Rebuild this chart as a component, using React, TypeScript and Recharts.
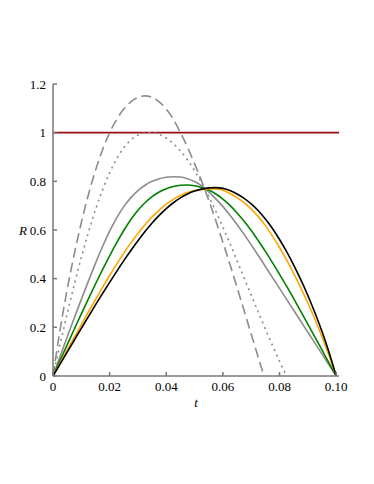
import { LineChart, Line, XAxis, YAxis, ReferenceLine, Label } from "recharts";

// shared t grid for the four solid curves
const tGrid = [
  0, 0.0025, 0.005, 0.0075, 0.01, 0.0125, 0.015, 0.0175, 0.02, 0.0225,
  0.025, 0.0275, 0.03, 0.0325, 0.035, 0.0375, 0.04, 0.0425, 0.045, 0.0475,
  0.05, 0.0525, 0.055, 0.0575, 0.06, 0.0625, 0.065, 0.0675, 0.07, 0.0725,
  0.075, 0.0775, 0.08, 0.0825, 0.085, 0.0875, 0.09, 0.0925, 0.095, 0.0975, 0.1,
];

const blackR = [
  0, 0.049, 0.098, 0.147, 0.196, 0.244, 0.292, 0.339, 0.385, 0.43,
  0.474, 0.516, 0.556, 0.594, 0.629, 0.66, 0.688, 0.712, 0.732, 0.748,
  0.76, 0.768, 0.773, 0.774, 0.771, 0.762, 0.748, 0.73, 0.707, 0.679,
  0.645, 0.606, 0.561, 0.511, 0.456, 0.396, 0.331, 0.26, 0.183, 0.097, 0,
];

const orangeR = [
  0, 0.053, 0.106, 0.159, 0.211, 0.263, 0.314, 0.364, 0.413, 0.46,
  0.505, 0.547, 0.586, 0.622, 0.654, 0.682, 0.706, 0.726, 0.742, 0.754,
  0.762, 0.767, 0.769, 0.769, 0.763, 0.75, 0.733, 0.712, 0.686, 0.655,
  0.618, 0.575, 0.528, 0.477, 0.422, 0.363, 0.3, 0.233, 0.161, 0.083, 0,
];

const greenR = [
  0, 0.064, 0.128, 0.192, 0.255, 0.317, 0.378, 0.437, 0.494, 0.548,
  0.598, 0.643, 0.681, 0.712, 0.737, 0.756, 0.77, 0.779, 0.784, 0.785,
  0.782, 0.775, 0.764, 0.748, 0.727, 0.701, 0.67, 0.636, 0.598, 0.556,
  0.512, 0.466, 0.418, 0.369, 0.318, 0.266, 0.213, 0.16, 0.107, 0.053, 0,
];

const grayR = [
  0, 0.08, 0.16, 0.238, 0.315, 0.39, 0.463, 0.532, 0.595, 0.65,
  0.696, 0.733, 0.762, 0.784, 0.8, 0.811, 0.817, 0.819, 0.818, 0.811,
  0.799, 0.781, 0.757, 0.728, 0.696, 0.661, 0.623, 0.582, 0.539, 0.495,
  0.45, 0.405, 0.36, 0.315, 0.27, 0.225, 0.18, 0.135, 0.09, 0.045, 0,
];

const dashedT = [
  0, 0.0025, 0.005, 0.0075, 0.01, 0.0125, 0.015, 0.0175, 0.02, 0.0225,
  0.025, 0.0275, 0.03, 0.0325, 0.035, 0.0375, 0.04, 0.0425, 0.045, 0.0475,
  0.05, 0.0525, 0.055, 0.0575, 0.06, 0.0625, 0.065, 0.0675, 0.07, 0.0725, 0.0745,
];
const dashedR = [
  0, 0.19, 0.355, 0.5, 0.63, 0.745, 0.845, 0.93, 1.0, 1.055,
  1.097, 1.127, 1.145, 1.151, 1.145, 1.127, 1.097, 1.055, 1.0, 0.94,
  0.872, 0.8, 0.722, 0.638, 0.55, 0.458, 0.364, 0.268, 0.172, 0.076, 0,
];

const dottedT = [
  0, 0.0025, 0.005, 0.0075, 0.01, 0.0125, 0.015, 0.0175, 0.02, 0.0225,
  0.025, 0.0275, 0.03, 0.0325, 0.035, 0.0375, 0.04, 0.0425, 0.045, 0.0475,
  0.05, 0.0525, 0.055, 0.0575, 0.06, 0.0625, 0.065, 0.0675, 0.07, 0.0725,
  0.075, 0.0775, 0.08, 0.0825,
];
const dottedR = [
  0, 0.13, 0.255, 0.375, 0.487, 0.59, 0.683, 0.765, 0.835, 0.893,
  0.938, 0.97, 0.99, 0.999, 1.0, 0.993, 0.978, 0.955, 0.925, 0.888,
  0.844, 0.794, 0.738, 0.677, 0.612, 0.544, 0.474, 0.403, 0.332, 0.262,
  0.193, 0.126, 0.061, 0,
];

const xTicks = [0, 0.02, 0.04, 0.06, 0.08, 0.1];
const yTicks = [0, 0.2, 0.4, 0.6, 0.8, 1, 1.2];

const zip = (ts: number[], rs: number[]) => ts.map((t, i) => ({ t, R: rs[i] }));

const font = "'Liberation Serif', 'DejaVu Serif', serif";
const axisColor = "#777";
const grey = "#8c8c8c";

export default function App() {
  return (
    <div style={{ width: 374, height: 484, background: "#fff" }}>
      <style>{`body { margin: 0; }`}</style>
      <LineChart width={374} height={484} margin={{ top: 84, right: 35, left: 8, bottom: 73 }}>
        <XAxis
          type="number"
          dataKey="t"
          domain={[0, 0.101]}
          ticks={xTicks}
          tickFormatter={(v: number) => (v === 0 ? "0" : v.toFixed(2))}
          allowDataOverflow
          height={35}
          stroke={axisColor}
          strokeWidth={1.5}
          tickSize={-4}
          tickMargin={10}
          tick={{ fill: "#000", fontSize: 13, fontFamily: font }}
        >
          <Label value="t" position="insideBottom" offset={4} style={{ fontStyle: "italic", fontFamily: font, fontSize: 13, fill: "#000" }} />
        </XAxis>
        <YAxis
          type="number"
          domain={[0, 1.2]}
          ticks={yTicks}
          tickFormatter={(v: number) => String(v)}
          allowDataOverflow
          width={45}
          stroke={axisColor}
          strokeWidth={1.5}
          tickSize={-4}
          tickMargin={11}
          tick={{ fill: "#000", fontSize: 13, fontFamily: font }}
        >
          <Label value="R" position="insideLeft" offset={11} style={{ fontStyle: "italic", fontFamily: font, fontSize: 13, fill: "#000" }} />
        </YAxis>
        <ReferenceLine y={1} stroke="#9a0a12" strokeWidth={1.6} />
        <Line data={zip(dashedT, dashedR)} dataKey="R" type="monotone" stroke={grey} strokeWidth={1.6} strokeDasharray="10 5" dot={false} isAnimationActive={false} />
        <Line data={zip(dottedT, dottedR)} dataKey="R" type="monotone" stroke={grey} strokeWidth={1.6} strokeDasharray="2 4" dot={false} isAnimationActive={false} />
        <Line data={zip(tGrid, grayR)} dataKey="R" type="monotone" stroke={grey} strokeWidth={1.6} dot={false} isAnimationActive={false} />
        <Line data={zip(tGrid, greenR)} dataKey="R" type="monotone" stroke="#008000" strokeWidth={1.6} dot={false} isAnimationActive={false} />
        <Line data={zip(tGrid, orangeR)} dataKey="R" type="monotone" stroke="#ffa500" strokeWidth={1.6} dot={false} isAnimationActive={false} />
        <Line data={zip(tGrid, blackR)} dataKey="R" type="monotone" stroke="#000" strokeWidth={1.6} dot={false} isAnimationActive={false} />
      </LineChart>
    </div>
  );
}
